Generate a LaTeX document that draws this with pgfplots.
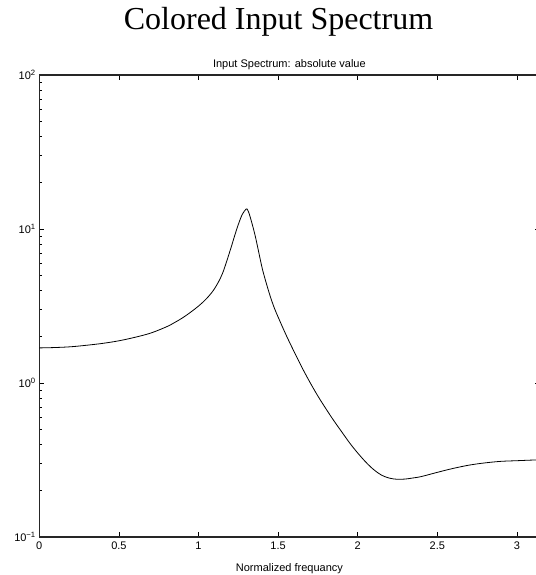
\documentclass[border=0pt]{standalone}
\usepackage{fontspec}
\setmainfont{Liberation Sans}
\newfontfamily\seriffont{Liberation Serif}
\usepackage{pgfplots}
\pgfplotsset{compat=1.18}
\begin{document}
\begin{tikzpicture}
\begin{axis}[
  scale only axis, width=500.2pt, height=462pt,
  at={(39.3pt,-537pt)}, anchor=south west,
  xmin=0, xmax=3.14159, ymode=log, ymin=0.1, ymax=100,
  xtick={0,0.5,1,1.5,2,2.5,3}, xticklabels={0,0.5,1,1.5,2,2.5,3},
  ytick={0.1,1,10,100},
  yticklabels={10\textsuperscript{−1},10\textsuperscript{0},10\textsuperscript{1},10\textsuperscript{2}},
  minor ytick={0.2,0.3,0.4,0.5,0.6,0.7,0.8,0.9,2,3,4,5,6,7,8,9,20,30,40,50,60,70,80,90},
  tick align=inside, major tick length=5pt, minor tick length=3pt,
  axis line style={line width=1.2pt, black!85},
  every tick/.style={black, line width=0.5pt},
  ticklabel style={font=\fontsize{11}{13}\selectfont},
  xticklabel style={yshift=-1pt},
]
\addplot[black, line width=0.8pt, smooth, tension=0.55] coordinates {
(0,1.69) (0.1,1.70) (0.2,1.72) (0.3,1.76) (0.4,1.81) (0.5,1.88) (0.6,1.98)
(0.7,2.11) (0.8,2.32) (0.85,2.47) (0.9,2.65) (0.95,2.88) (1.0,3.16)
(1.05,3.53) (1.1,4.09) (1.15,5.13) (1.2,7.33) (1.225,8.91) (1.25,10.7)
(1.275,12.45) (1.30,13.5) (1.31,13.2) (1.32,12.4) (1.335,10.96)
(1.355,9.12) (1.375,7.33) (1.4,5.56) (1.425,4.47) (1.45,3.67) (1.475,3.09)
(1.5,2.68) (1.55,2.05) (1.6,1.60) (1.65,1.26) (1.7,1.01) (1.75,0.822)
(1.8,0.681) (1.85,0.569) (1.9,0.481) (1.95,0.407) (2.0,0.351) (2.05,0.307)
(2.1,0.274) (2.15,0.252) (2.2,0.241) (2.25,0.237) (2.3,0.238) (2.35,0.242)
(2.4,0.247) (2.5,0.263) (2.6,0.279) (2.7,0.293) (2.8,0.303) (2.9,0.310)
(3.0,0.313) (3.1,0.316) (3.14159,0.316)
};
\end{axis}
\node[anchor=base, font=\seriffont\fontsize{32}{36}\selectfont] at (278.5pt,-29.3pt) {Colored Input Spectrum};
\node[anchor=base, font=\fontsize{11}{13}\selectfont] at (289.4pt,-68pt) {Input Spectrum: absolute value};
\node[anchor=base, font=\fontsize{11}{13}\selectfont] at (289.4pt,-571pt) {Normalized frequancy};
\pgfresetboundingbox
\useasboundingbox (0pt,0pt) rectangle (535pt,-575pt);
\end{tikzpicture}
\end{document}
